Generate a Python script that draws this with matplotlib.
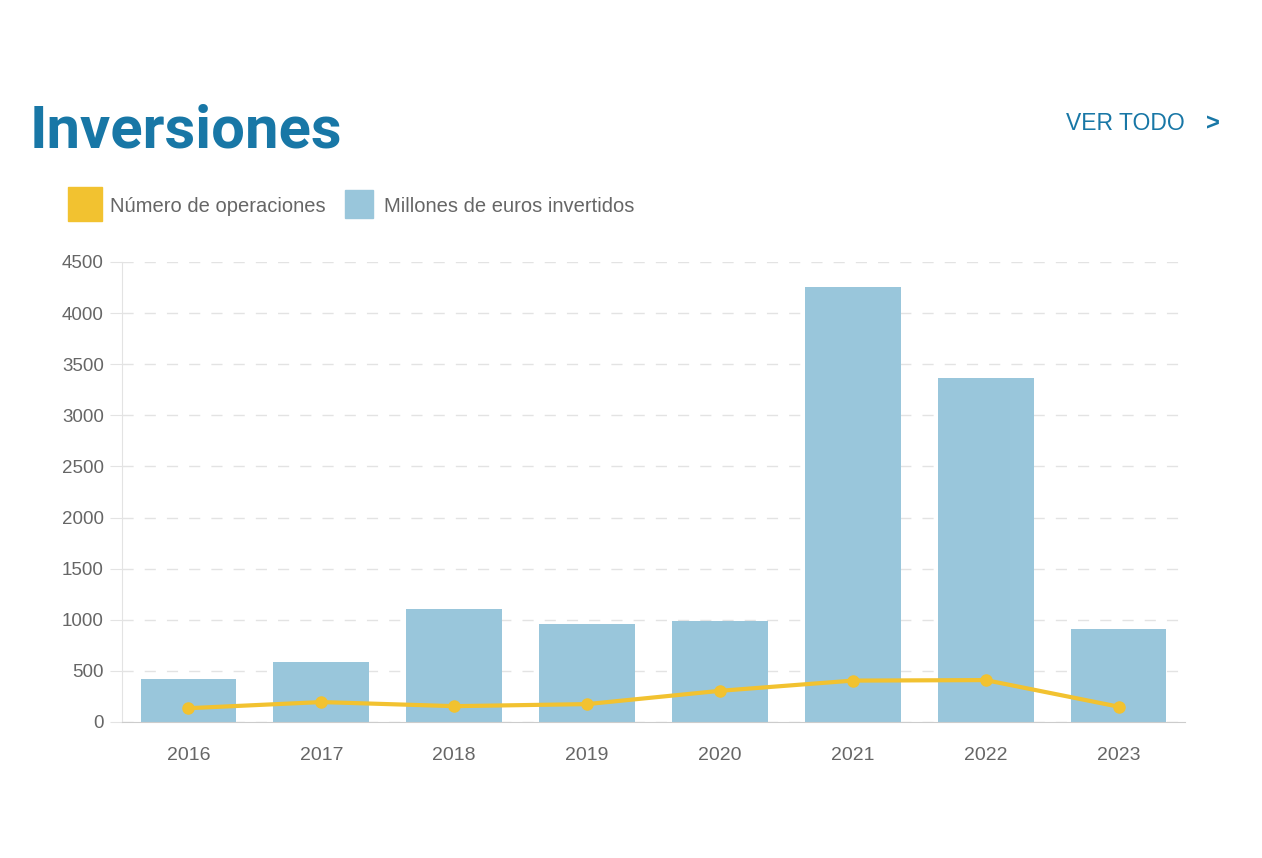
import matplotlib.pyplot as plt
from matplotlib.lines import Line2D
import numpy as np

# Datos
years = ['2016', '2017', '2018', '2019', '2020', '2021', '2022', '2023']
millones = [425, 590, 1105, 960, 985, 4255, 3370, 910]
operaciones = [135, 195, 155, 175, 305, 405, 410, 150]
yticks = [0, 500, 1000, 1500, 2000, 2500, 3000, 3500, 4000, 4500]

blue = '#1877a6'
bar_color = '#99c6db'
line_color = '#f2c230'
text_gray = '#666666'

plt.rcParams['font.family'] = ['Liberation Sans', 'DejaVu Sans']

fig = plt.figure(figsize=(12.62, 8.58), dpi=100)
ax = fig.add_axes([122 / 1262, 1 - 722 / 858, (1185 - 122) / 1262, 460 / 858])

x = np.arange(len(years))
ax.bar(x, millones, width=0.72, color=bar_color, zorder=2)
ax.plot(x, operaciones, color=line_color, lw=3, marker='o', ms=8,
        zorder=3, clip_on=False, solid_joinstyle='round')

ax.set_xlim(-0.5, len(years) - 0.5)
ax.set_ylim(0, 4500)
ax.set_yticks(yticks)
ax.set_yticklabels([str(t) for t in yticks])
ax.set_xticks(x)
ax.set_xticklabels(years)

ax.grid(axis='y', color='#e3e3e3', lw=1, ls=(0, (8, 8)), zorder=0)
for side in ['top', 'right']:
    ax.spines[side].set_visible(False)
ax.spines['left'].set_color('#e3e3e3')
ax.spines['bottom'].set_color('#cccccc')
ax.tick_params(axis='y', length=9, color='#e3e3e3', labelsize=13.5,
               labelcolor=text_gray, pad=4)
ax.tick_params(axis='x', length=0, labelsize=14, labelcolor=text_gray, pad=18)

# Título y enlace
fig.text(30 / 1262, 1 - 148 / 858, 'Inversiones', fontsize=43, fontweight='bold',
         color=blue, family=['Roboto', 'DejaVu Sans'],
         va='baseline', ha='left')
fig.text(1185 / 1262, 1 - 124 / 858, 'VER TODO', fontsize=16.5, color=blue,
         va='center', ha='right')
fig.text(1213 / 1262, 1 - 124 / 858, '>', fontsize=17, color=blue,
         fontweight='bold', va='center', ha='center')

# Leyenda
handles = [
    Line2D([], [], marker='s', ls='', ms=24.5, color='#f2c230'),
    Line2D([], [], marker='s', ls='', ms=20.5, color=bar_color),
]
fig.legend(handles, ['Número de operaciones', 'Millones de euros invertidos'],
           loc='center left', bbox_to_anchor=(68 / 1262, 1 - 206 / 858),
           ncol=2, frameon=False, fontsize=14.5, labelcolor=text_gray,
           borderpad=0, borderaxespad=0,
           handlelength=1.7, handletextpad=0.41, columnspacing=0.78)

fig.savefig('out.png', dpi=100)
